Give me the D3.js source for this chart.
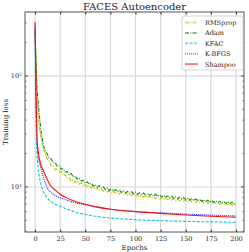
<!DOCTYPE html>
<html>
<head>
<meta charset="utf-8">
<script src="https://cdn.jsdelivr.net/npm/d3@7"></script>
<style>
  body { margin: 0; background: #fff; }
  text { font-family: "DejaVu Serif", serif; fill: #222; }
</style>
</head>
<body>
<div class="chart"></div>
<script>
// Epochs for the noisy curves (every 2 epochs)
const noisyEpochs = d3.range(0, 201, 2);

const rmsprop = [270, 61, 35.5, 27.4, 22.1, 20.3, 17.9, 17.3, 15.6, 15.5, 14.3, 14.5, 13.6, 13.8, 12.7, 12.9, 11.9, 12.1, 11.3, 11.6, 11.0,
  11.25, 10.6, 10.9, 10.3, 10.5, 10.0, 10.3, 9.8, 10.05, 9.55, 9.8, 9.35, 9.6, 9.15, 9.4, 9.0, 9.25, 8.85, 9.1, 8.75,
  8.95, 8.65, 8.9, 8.55, 8.8, 8.45, 8.7, 8.35, 8.6, 8.25, 8.5, 8.18, 8.4, 8.08, 8.35, 8.0, 8.25, 7.92, 8.15, 7.86,
  8.1, 7.8, 8.02, 7.74, 7.98, 7.68, 7.9, 7.62, 7.84, 7.55, 7.78, 7.5, 7.72, 7.42, 7.66, 7.38, 7.6, 7.32, 7.55, 7.26,
  7.48, 7.22, 7.44, 7.16, 7.38, 7.1, 7.32, 7.06, 7.28, 7.0, 7.22, 6.96, 7.18, 6.92, 7.12, 6.88, 7.08, 6.85, 7.02, 6.88];

const adam = [250, 76, 47, 31.5, 24.4, 21.2, 19.9, 18.2, 17.9, 16.6, 16.6, 15.4, 15.5, 14.5, 14.6, 13.6, 13.8, 12.9, 13.2, 12.3, 12.5,
  11.8, 12.0, 11.3, 11.5, 10.85, 11.1, 10.55, 10.8, 10.2, 10.45, 9.95, 10.25, 9.8, 10.0, 9.5, 9.8, 9.3, 9.6, 9.2, 9.45,
  9.05, 9.35, 8.95, 9.25, 8.88, 9.12, 8.78, 9.05, 8.7, 8.98, 8.62, 8.88, 8.56, 8.82, 8.46, 8.72, 8.4, 8.66, 8.3, 8.58,
  8.22, 8.48, 8.15, 8.42, 8.08, 8.32, 7.98, 8.26, 7.92, 8.16, 7.84, 8.1, 7.78, 8.0, 7.7, 7.94, 7.62, 7.86, 7.56, 7.8,
  7.5, 7.74, 7.44, 7.66, 7.38, 7.6, 7.32, 7.54, 7.26, 7.48, 7.22, 7.42, 7.16, 7.38, 7.12, 7.34, 7.06, 7.3, 7.04, 7.18];

// Epochs for the smooth curves
const smoothEpochs = [0, 1, 2, 3, 4, 5, 6, 8, 10, 12, 15, 20, 25, 30, 40, 50, 60, 75, 90, 100, 125, 150, 175, 200];
const kfac    = [262, 42, 20, 15, 12.8, 11.4, 10.4, 9.2, 8.5, 8.0, 7.5, 7.0, 6.7, 6.4, 5.95, 5.65, 5.45, 5.25, 5.13, 5.07, 4.97, 4.9, 4.85, 4.8];
const kbfgs   = [285, 58, 25, 19.5, 17, 15.8, 14.6, 12.5, 11.0, 9.9, 9.1, 8.4, 8.0, 7.7, 7.2, 6.9, 6.62, 6.3, 6.08, 6.0, 5.85, 5.7, 5.58, 5.48];
const shampoo = [306, 75, 27, 21.5, 18.5, 17, 15.7, 14.2, 12.9, 11.8, 10.4, 9.4, 8.6, 8.1, 7.4, 7.0, 6.65, 6.3, 6.1, 6.0, 5.78, 5.6, 5.45, 5.33];

const names = ["RMSprop", "Adam", "KFAC", "K-BFGS", "Shampoo"];
const xTicks = [0, 25, 50, 75, 100, 125, 150, 175, 200];

const series = [
  { name: "RMSprop", x: noisyEpochs, y: rmsprop, color: "#c4c400", dash: "4,1.3,1,1.3", curve: d3.curveLinear },
  { name: "Adam", x: noisyEpochs, y: adam, color: "#108a10", dash: "4,1.3,1,1.3", curve: d3.curveLinear },
  { name: "KFAC", x: smoothEpochs, y: kfac, color: "#14c4c4", dash: "3,1.5", curve: d3.curveMonotoneX },
  { name: "K-BFGS", x: smoothEpochs, y: kbfgs, color: "#2020ff", dash: "1,1", curve: d3.curveMonotoneX },
  { name: "Shampoo", x: smoothEpochs, y: shampoo, color: "#ff1010", dash: null, curve: d3.curveMonotoneX }
];

const W = 249, H = 252;
const margin = { top: 12, right: 5, bottom: 20, left: 25 };
const width = W - margin.left - margin.right;
const height = H - margin.top - margin.bottom;

const svg = d3.select(".chart").append("svg")
    .attr("width", W)
    .attr("height", H);

const g = svg.append("g")
    .attr("transform", `translate(${margin.left}, ${margin.top})`);

const xScale = d3.scaleLinear().domain([-10, 208]).range([0, width]);
const yScale = d3.scaleLog().domain([3.93, 377]).range([height, 0]);

// Grid lines
g.append("g").selectAll("line")
    .data(xTicks).enter().append("line")
    .attr("x1", d => xScale(d)).attr("x2", d => xScale(d))
    .attr("y1", 0).attr("y2", height)
    .attr("stroke", "#d8d8d8").attr("stroke-width", 1.2);
g.append("g").selectAll("line")
    .data([10, 100]).enter().append("line")
    .attr("x1", 0).attr("x2", width)
    .attr("y1", d => yScale(d)).attr("y2", d => yScale(d))
    .attr("stroke", "#d8d8d8").attr("stroke-width", 1.2);

// Curves
const clip = svg.append("clipPath").attr("id", "clip")
    .append("rect").attr("width", width).attr("height", height);

const plot = g.append("g").attr("clip-path", "url(#clip)");
series.forEach(s => {
    const line = d3.line()
        .x((d, i) => xScale(s.x[i]))
        .y(d => yScale(d))
        .curve(s.curve);
    plot.append("path")
        .attr("fill", "none")
        .attr("stroke", s.color)
        .attr("stroke-width", 1.1)
        .attr("stroke-dasharray", s.dash)
        .attr("d", line(s.y));
});

// Frame
g.append("rect")
    .attr("width", width).attr("height", height)
    .attr("fill", "none").attr("stroke", "#555").attr("stroke-width", 1);

// X axis
const xAxis = g.append("g")
    .attr("transform", `translate(0, ${height})`)
    .call(d3.axisBottom(xScale).tickValues(xTicks).tickSize(-2.5).tickPadding(4));
xAxis.select(".domain").remove();
xAxis.selectAll("line").attr("stroke", "#333");
xAxis.selectAll("text").style("font-family", "DejaVu Serif").style("font-size", "6.5px").attr("fill", "#222");

// top ticks
g.append("g").call(d3.axisTop(xScale).tickValues(xTicks).tickSize(-2.5).tickFormat(""))
    .call(a => a.select(".domain").remove())
    .selectAll("line").attr("stroke", "#333");

// Y axis ticks (major + minor) on both sides
const minor = [4, 5, 6, 7, 8, 9, 20, 30, 40, 50, 60, 70, 80, 90, 200, 300];
[0, width].forEach(xPos => {
    const dir = xPos === 0 ? 1 : -1;
    g.append("g").selectAll("line").data([10, 100]).enter().append("line")
        .attr("x1", xPos).attr("x2", xPos + dir * 3)
        .attr("y1", d => yScale(d)).attr("y2", d => yScale(d))
        .attr("stroke", "#333").attr("stroke-width", 0.8);
    g.append("g").selectAll("line").data(minor).enter().append("line")
        .attr("x1", xPos).attr("x2", xPos + dir * 1.6)
        .attr("y1", d => yScale(d)).attr("y2", d => yScale(d))
        .attr("stroke", "#333").attr("stroke-width", 0.6);
});

const yLabels = g.append("g").selectAll("text").data([[10, "1"], [100, "2"]]).enter().append("text")
    .attr("x", -3).attr("y", d => yScale(d[0]) + 2.3)
    .attr("text-anchor", "end")
    .style("font-size", "6.5px");
yLabels.append("tspan").text("10");
yLabels.append("tspan").attr("dy", -2.5).style("font-size", "4.5px").text(d => d[1]);

// Axis labels
svg.append("text")
    .attr("x", margin.left + width / 2).attr("y", H - 2)
    .attr("text-anchor", "middle")
    .style("font-size", "7px")
    .text("Epochs");

svg.append("text")
    .attr("transform", `translate(8, ${margin.top + height / 2}) rotate(-90)`)
    .attr("text-anchor", "middle")
    .style("font-size", "7px")
    .text("Training loss");

// Title
svg.append("text")
    .attr("x", margin.left + width / 2).attr("y", 10)
    .attr("text-anchor", "middle")
    .style("font-size", "10px")
    .text("FACES Autoencoder");

// Legend
const legend = g.append("g").attr("transform", `translate(${width - 62}, 4)`);
legend.append("rect")
    .attr("width", 61).attr("height", 54).attr("rx", 2)
    .attr("fill", "#fff").attr("fill-opacity", 0.9)
    .attr("stroke", "#ccc").attr("stroke-width", 0.8);
const items = legend.selectAll("g.item").data(series).enter().append("g")
    .attr("class", "item")
    .attr("transform", (d, i) => `translate(0, ${6.5 + i * 10.4})`);
items.append("line")
    .attr("x1", 3).attr("x2", 16)
    .attr("stroke", d => d.color)
    .attr("stroke-opacity", 0.55)
    .attr("stroke-width", 2)
    .attr("stroke-dasharray", d => d.dash);
items.append("text")
    .attr("x", 23).attr("y", 2.4)
    .style("font-size", "6.5px")
    .text((d, i) => names[i]);
</script>
</body>
</html>
